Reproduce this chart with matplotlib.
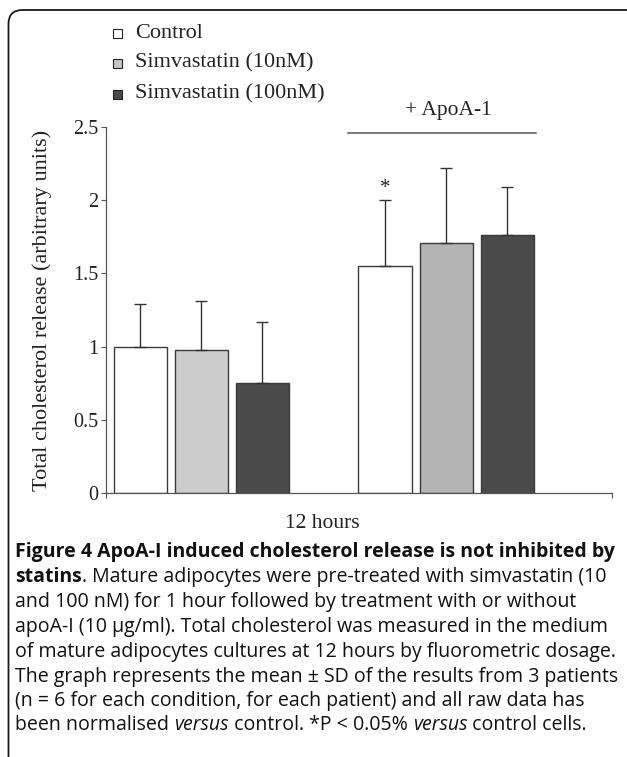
import matplotlib
matplotlib.use("Agg")
import matplotlib.pyplot as plt
from matplotlib.patches import FancyBboxPatch, Rectangle
from matplotlib.transforms import IdentityTransform

# ---------------- data ----------------
series = ["Control", "Simvastatin (10nM)", "Simvastatin (100nM)"]
means_no_apoa = [1.00, 0.98, 0.75]
sd_no_apoa = [0.29, 0.33, 0.42]
means_apoa = [1.55, 1.71, 1.76]
sd_apoa = [0.45, 0.51, 0.33]
yticks = [0, 0.5, 1, 1.5, 2, 2.5]
ytick_labels = ["0", "0.5", "1", "1.5", "2", "2.5"]
xlabel = "12 hours"
ylabel = "Total cholesterol release (arbitrary units)"
apoa_label = "+ ApoA-1"
sig_marker = "*"

caption_lines = [
    [("Figure 4 ApoA-I induced cholesterol release is not inhibited by", "bold", "normal")],
    [("statins", "bold", "normal"), (". Mature adipocytes were pre-treated with simvastatin (10", "normal", "normal")],
    [("and 100 nM) for 1 hour followed by treatment with or without", "normal", "normal")],
    [("apoA-I (10 \u03bcg/ml). Total cholesterol was measured in the medium", "normal", "normal")],
    [("of mature adipocytes cultures at 12 hours by fluorometric dosage.", "normal", "normal")],
    [("The graph represents the mean \u00b1 SD of the results from 3 patients", "normal", "normal")],
    [("(n = 6 for each condition, for each patient) and all raw data has", "normal", "normal")],
    [("been normalised ", "normal", "normal"), ("versus", "normal", "italic"),
     (" control. *P < 0.05% ", "normal", "normal"), ("versus", "normal", "italic"),
     (" control cells.", "normal", "normal")],
]

# ---------------- style ----------------
W, H = 627, 757
SERIF = ["Liberation Serif", "DejaVu Serif"]
SANS = ["Open Sans", "DejaVu Sans"]
fill_g1 = ["#ffffff", "#cdcdcd", "#4b4b4b"]
fill_g2 = ["#ffffff", "#b4b4b4", "#4b4b4b"]
legend_fill = ["#ffffff", "#c8c8c8", "#4b4b4b"]
edge = "#3a3a3a"
axis_col = "#555555"
txt_col = "#222222"

fig = plt.figure(figsize=(W / 100, H / 100), dpi=100)


def fx(x):
    return x / W


def fy(y):
    return 1 - y / H


ax = fig.add_axes([fx(106), fy(493), (612 - 106) / W, (493 - 127) / H])

bar_w = 1.0
step = 1.145
group_centers = [1.79, 6.38]
for gc, means, sds, fills in [(group_centers[0], means_no_apoa, sd_no_apoa, fill_g1),
                              (group_centers[1], means_apoa, sd_apoa, fill_g2)]:
    xs = [gc + (i - 1) * step for i in range(len(means))]
    ax.bar(xs, means, width=bar_w, color=fills, edgecolor=edge, linewidth=1.0, zorder=2)
    ax.errorbar(xs, means, yerr=[[0] * len(sds), sds], fmt="none", ecolor="#333333",
                elinewidth=1.0, capsize=4, capthick=1.0, zorder=3)

# significance star over ApoA-1 control
star_x = group_centers[1] - step
ax.text(star_x, means_apoa[0] + sd_apoa[0] + 0.015, sig_marker, ha="center", va="bottom",
        fontsize=15, family=SERIF, color=txt_col)

# + ApoA-1 bracket line
ax.plot([4.54, 8.07], [2.461, 2.461], color=axis_col, lw=1.1, clip_on=False)
ax.text(6.42, 2.61, apoa_label, ha="center", va="center", fontsize=15.5,
        family=SERIF, color=txt_col, clip_on=False)

ax.set_xlim(0, 9.49)
ax.set_ylim(0, 2.5)
ax.set_xticks([0, 9.49])
ax.set_xticklabels(["", ""])
ax.set_yticks(yticks)
ax.set_yticklabels(ytick_labels, family=SERIF, fontsize=14.5, color=txt_col)
ax.tick_params(axis="both", direction="out", length=3.8, width=0.8, color=axis_col, pad=1.5)
for s in ["top", "right"]:
    ax.spines[s].set_visible(False)
for s in ["left", "bottom"]:
    ax.spines[s].set_color(axis_col)
    ax.spines[s].set_linewidth(0.9)
ax.patch.set_alpha(0)

# axis titles
fig.text(fx(322), fy(523), xlabel, ha="center", va="center", fontsize=15.5,
         family=SERIF, color=txt_col)
fig.text(fx(42), fy(310), ylabel, ha="center", va="center", rotation=90,
         fontsize=16, family=SERIF, color=txt_col)

# legend
for lab, col, y in zip(series, legend_fill, [33, 63, 94]):
    fig.add_artist(Rectangle((112.5, H - y - 4.5), 9, 9, transform=IdentityTransform(),
                             facecolor=col, edgecolor="#222222", linewidth=0.8))
    fig.text(fx(135), fy(y), lab, ha="left", va="center", fontsize=16,
             family=SERIF, color=txt_col)

# outer rounded frame (cropped on right and bottom)
fig.add_artist(FancyBboxPatch((8.5, H - 790), 660, 790 - 10,
                              boxstyle="round,pad=0,rounding_size=14",
                              transform=IdentityTransform(), facecolor="none",
                              edgecolor="#1a1a1a", linewidth=1.3))

# caption
fig.canvas.draw()
r = fig.canvas.get_renderer()


def text_w(s, size, weight, style):
    t = fig.text(0, 0, s + "|", fontsize=size, family=SANS, weight=weight, style=style)
    t2 = fig.text(0, 0, "|", fontsize=size, family=SANS, weight=weight, style=style)
    w = t.get_window_extent(r).width - t2.get_window_extent(r).width
    t.remove()
    t2.remove()
    return w


x0 = 15
ref_size = 10.0
target = 618 - x0
w0 = text_w(caption_lines[5][0][0], ref_size, "normal", "normal")
cap_size = ref_size * target / w0

ys = [552, 577, 602, 627, 652, 677, 701, 725]
for runs, y in zip(caption_lines, ys):
    x = x0
    for s, weight, style in runs:
        fig.text(fx(x), fy(y), s, ha="left", va="center", fontsize=cap_size,
                 family=SANS, weight=weight, style=style, color="#111111")
        x += text_w(s, cap_size, weight, style)

fig.savefig("out.png", dpi=100)
